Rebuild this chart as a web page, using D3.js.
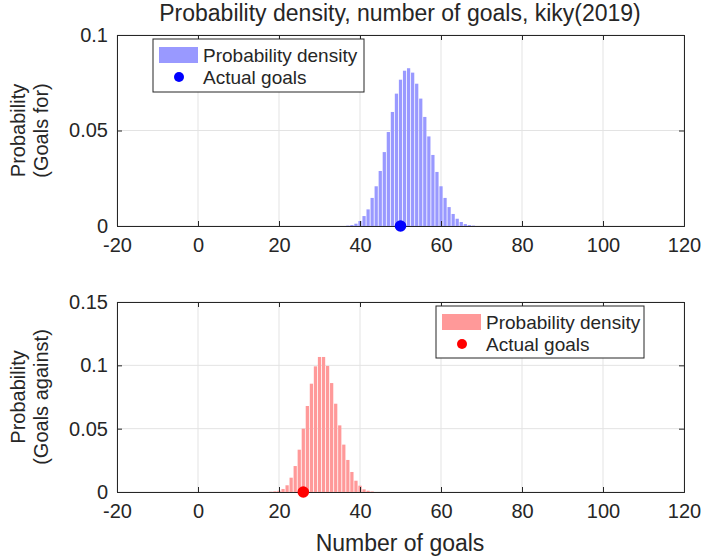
<!DOCTYPE html>
<html><head><meta charset="utf-8">
<script src="https://cdn.jsdelivr.net/npm/d3@7"></script>
<style>body{margin:0;background:#fff}svg{display:block}text{font-family:"Liberation Sans",Arial,sans-serif;fill:#262626}</style>
</head><body>
<script>
// ---- data ----
const goalsForX = [37,38,39,40,41,42,43,44,45,46,47,48,49,50,51,52,53,54,55,56,57,58,59,60,61,62,63,64,65,66,67,68];
const goalsForP = [0.0002,0.0005,0.0012,0.0026,0.0052,0.0087,0.0147,0.0208,0.0288,0.0387,0.0492,0.0597,0.0693,0.0766,0.0813,0.0826,0.0803,0.0745,0.0667,0.0571,0.0469,0.0372,0.0283,0.0208,0.0147,0.0099,0.0063,0.0038,0.0021,0.0010,0.0005,0.0002];
const goalsAgainstX = [18,19,20,21,22,23,24,25,26,27,28,29,30,31,32,33,34,35,36,37,38,39,40,41,42,43];
const goalsAgainstP = [0.0002,0.0005,0.0010,0.0024,0.0053,0.0113,0.0205,0.0334,0.0500,0.0679,0.0855,0.0992,0.1066,0.1066,0.0995,0.0860,0.0697,0.0526,0.0374,0.0253,0.0158,0.0089,0.0050,0.0021,0.0010,0.0004];
const actualFor = 50;
const actualAgainst = 26;
const xTicks = [-20,0,20,40,60,80,100,120];
const xTickLabels = ["-20","0","20","40","60","80","100","120"];
const yTicksFor = [0,0.05,0.1];
const yTicksAgainst = [0,0.05,0.1,0.15];
const legendLabels = ["Probability density","Actual goals"];
const titleText = "Probability density, number of goals, kiky(2019)";
const xLabelText = "Number of goals";

const W=703,H=558;
const svg=d3.select("body").append("svg").attr("width",W).attr("height",H);
const TICKFS=20, LEGFS=19, LABFS=20, TITLEFS=23;

function panel(o){
  const x=d3.scaleLinear().domain([-20,120]).range([117,684]);
  const y=d3.scaleLinear().domain(o.ydom).range([o.bottom,o.top]);
  const g=svg.append("g");
  // grid
  g.selectAll(".gx").data(xTicks).join("line").attr("x1",d=>x(d)).attr("x2",d=>x(d)).attr("y1",o.top).attr("y2",o.bottom).attr("stroke","#e3e3e3").attr("stroke-width",1);
  g.selectAll(".gy").data(o.yt).join("line").attr("x1",117).attr("x2",684).attr("y1",d=>y(d)).attr("y2",d=>y(d)).attr("stroke","#e3e3e3").attr("stroke-width",1);
  // bars
  const bw=(x(1)-x(0))*0.8;
  g.selectAll(".bar").data(o.xs).join("rect")
    .attr("x",(d)=>x(d)-bw/2).attr("width",bw)
    .attr("y",(d,i)=>y(o.ps[i])).attr("height",(d,i)=>y(0)-y(o.ps[i]))
    .attr("fill",o.fill);
  // axes
  const xb=g.append("g").attr("transform",`translate(0,${o.bottom})`).call(d3.axisBottom(x).tickValues(xTicks).tickSize(-5).tickPadding(12).tickFormat((d,i)=>xTickLabels[i]));
  const xt=g.append("g").attr("transform",`translate(0,${o.top})`).call(d3.axisTop(x).tickValues(xTicks).tickSize(-5).tickFormat(""));
  const yl=g.append("g").attr("transform",`translate(117,0)`).call(d3.axisLeft(y).tickValues(o.yt).tickSize(-5).tickPadding(9).tickFormat(d=>d===0?"0":String(+d.toFixed(2))));
  const yr=g.append("g").attr("transform",`translate(684,0)`).call(d3.axisRight(y).tickValues(o.yt).tickSize(-5).tickFormat(""));
  [xb,xt,yl,yr].forEach(a=>{a.select(".domain").attr("stroke","#262626");a.selectAll(".tick line").attr("stroke","#262626");a.selectAll("text").attr("font-size",TICKFS).attr("font-family","Liberation Sans, Arial, sans-serif").attr("fill","#262626");});
  // dot
  g.append("circle").attr("cx",x(o.actual)).attr("cy",y(0)).attr("r",5.8).attr("fill",o.dot);
  // y label
  const yc=(o.top+o.bottom)/2;
  const t=g.append("text").attr("transform",`translate(29,${yc}) rotate(-90)`).attr("text-anchor","middle").attr("font-size",LABFS);
  t.append("tspan").attr("x",0).attr("dy",-4).text("Probability");
  t.append("tspan").attr("x",0).attr("dy",23).text(o.ylab);
  // legend
  const L=o.leg;
  g.append("rect").attr("x",L.x).attr("y",L.y).attr("width",L.w).attr("height",L.h).attr("fill","#fff").attr("stroke","#262626").attr("stroke-width",1);
  g.append("rect").attr("x",L.x+6).attr("y",L.y+8).attr("width",39).attr("height",16).attr("fill",o.fill);
  g.append("circle").attr("cx",L.x+26).attr("cy",L.y+38).attr("r",5).attr("fill",o.dot);
  g.append("text").attr("x",L.x+50).attr("y",L.y+23).attr("font-size",LEGFS).text(legendLabels[0]);
  g.append("text").attr("x",L.x+50).attr("y",L.y+45).attr("font-size",LEGFS).text(legendLabels[1]);
}

panel({top:35,bottom:226,ydom:[0,0.1],yt:yTicksFor,xs:goalsForX,ps:goalsForP,fill:"#9999ff",dot:"#0000ff",actual:actualFor,ylab:"(Goals for)",leg:{x:153,y:39,w:211,h:53}});
panel({top:302,bottom:492,ydom:[0,0.15],yt:yTicksAgainst,xs:goalsAgainstX,ps:goalsAgainstP,fill:"#ff9999",dot:"#ff0000",actual:actualAgainst,ylab:"(Goals against)",leg:{x:436,y:306,w:208,h:52}});

svg.append("text").attr("x",400).attr("y",21).attr("text-anchor","middle").attr("font-size",TITLEFS).text(titleText);
svg.append("text").attr("x",400).attr("y",551).attr("text-anchor","middle").attr("font-size",TITLEFS).text(xLabelText);
</script>
</body></html>
